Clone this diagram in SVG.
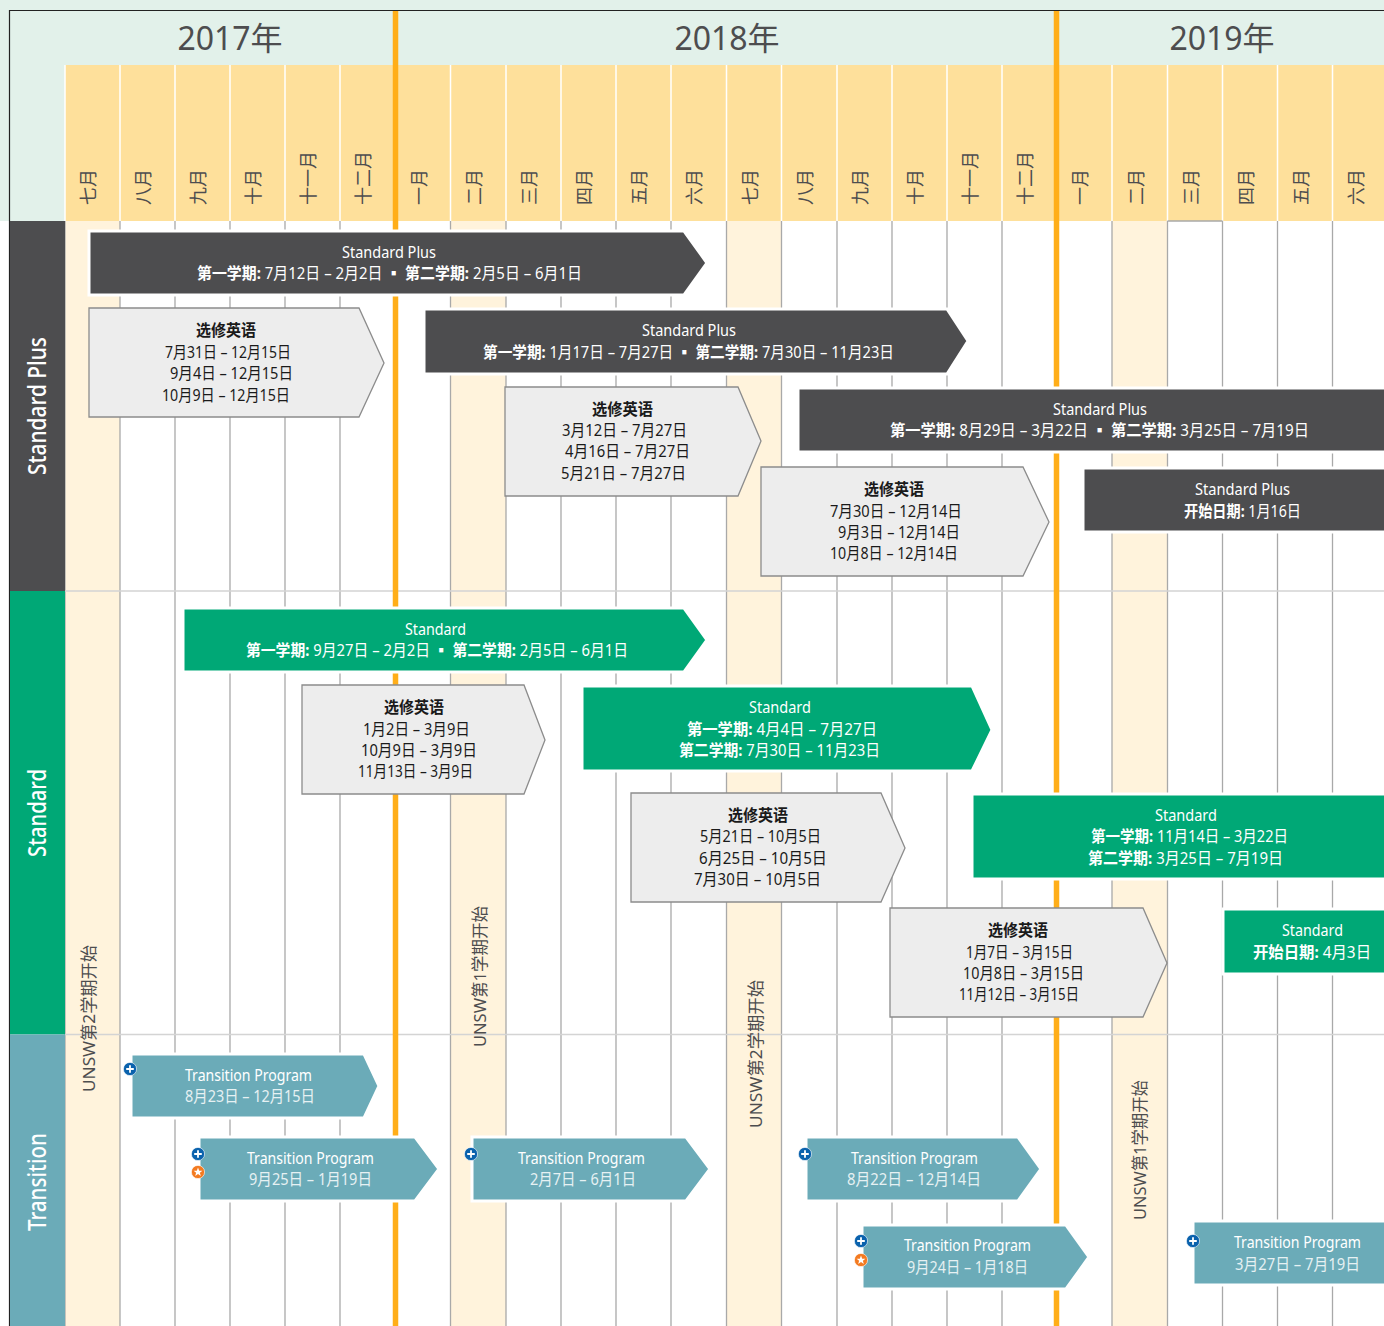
<svg xmlns="http://www.w3.org/2000/svg" width="1384" height="1326" viewBox="0 0 1384 1326">
<style>
text{font-family:"Noto Sans","Noto Sans CJK SC",sans-serif}
.yr{font-size:32px;fill:#4d4d4f;text-anchor:middle}
.mo{font-size:18px;fill:#4d4d4f}
.side{font-size:25px;fill:#fff;text-anchor:middle;font-weight:500}
.unsw{font-size:17px;fill:#4d4d4f}
.t{font-size:16px}
.w{fill:#fff}
.k{fill:#1a1a1a}
.l{fill:#e6f1f3}
.b{font-weight:700}
.dark{fill:#4d4d4f;stroke:#fff;stroke-width:3}
.green{fill:#00a876;stroke:#fff;stroke-width:3}
.teal{fill:#6babb8;stroke:#fff;stroke-width:3}
.gray{fill:#ededed;stroke:#8c8c8c;stroke-width:1.3}
.grid{stroke:#a9a9a9;stroke-width:1.3;fill:none}
.sep{stroke:#fff;stroke-width:1.5}
.hr{stroke:#d4d4d4;stroke-width:1.5}
.or{stroke:#ffae19;stroke-width:5.5}
</style>
<defs>
<g id="plus"><circle r="6.6" fill="#0a62ad" stroke="#fff" stroke-width="0.6"/><path d="M-3.8 0H3.8M0-3.8V3.8" stroke="#fff" stroke-width="1.8"/></g>
<g id="star"><circle r="6.6" fill="#f37a20" stroke="#fff" stroke-width="0.6"/><path d="M0-4.4 1.2-1.3 4.4-1.3 1.9 0.7 2.8 3.9 0 2.1-2.8 3.9-1.9 0.7-4.4-1.3-1.2-1.3Z" fill="#fff"/></g>
</defs>
<rect width="1384" height="1326" fill="#fff"/>
<g id="backdrop">
<rect width="1384" height="221" fill="#e2f1ea"/>
<rect x="65" y="65" width="1319" height="156" fill="#fee09b"/>
<rect x="65" y="221" width="55" height="1105" fill="#fff3dc"/>
<rect x="450.500" y="221" width="55.500" height="1105" fill="#fff3dc"/>
<rect x="726.500" y="221" width="55" height="1105" fill="#fff3dc"/>
<rect x="1112" y="221" width="55.500" height="1105" fill="#fff3dc"/>
<path class="sep" d="M65 65V221M120 65V221M175 65V221M230 65V221M285 65V221M340 65V221M450.500 65V221M506 65V221M561 65V221M616 65V221M671 65V221M726.500 65V221M781.500 65V221M837 65V221M892 65V221M947 65V221M1002 65V221M1112 65V221M1167.500 65V221M1222.500 65V221M1277.500 65V221M1332.500 65V221"/>
</g>
<g id="grid">
<path class="grid" d="M65 221V1326M120 221V1326M175 221V1326M230 221V1326M285 221V1326M340 221V1326M450.500 221V1326M506 221V1326M561 221V1326M616 221V1326M671 221V1326M726.500 221V1326M781.500 221V1326M837 221V1326M892 221V1326M947 221V1326M1002 221V1326M1112 221V1326M1167.500 221V1326M1222.500 221V1326M1277.500 221V1326M1332.500 221V1326M1167.500 221H1222.500"/>
<path class="hr" d="M65 591H1384M65 1034.500H1384"/>
<path class="or" d="M395.500 10V1326M1056.500 10V1326"/>
</g>
<g id="frame"><path d="M1384 10.500H9.500V1326" fill="none" stroke="#222" stroke-width="1.2"/></g>
<g id="years">
<text class="yr" x="230" y="50">2017年</text>
<text class="yr" x="727" y="50">2018年</text>
<text class="yr" x="1222" y="50">2019年</text>
</g>
<g id="months">
<text class="mo" transform="translate(95 205) rotate(-90)">七月</text>
<text class="mo" transform="translate(150 205) rotate(-90)">八月</text>
<text class="mo" transform="translate(205 205) rotate(-90)">九月</text>
<text class="mo" transform="translate(260 205) rotate(-90)">十月</text>
<text class="mo" transform="translate(315 205) rotate(-90)">十一月</text>
<text class="mo" transform="translate(370 205) rotate(-90)">十二月</text>
<text class="mo" transform="translate(426 205) rotate(-90)">一月</text>
<text class="mo" transform="translate(481 205) rotate(-90)">二月</text>
<text class="mo" transform="translate(536 205) rotate(-90)">三月</text>
<text class="mo" transform="translate(591 205) rotate(-90)">四月</text>
<text class="mo" transform="translate(646 205) rotate(-90)">五月</text>
<text class="mo" transform="translate(701 205) rotate(-90)">六月</text>
<text class="mo" transform="translate(757 205) rotate(-90)">七月</text>
<text class="mo" transform="translate(812 205) rotate(-90)">八月</text>
<text class="mo" transform="translate(867 205) rotate(-90)">九月</text>
<text class="mo" transform="translate(922 205) rotate(-90)">十月</text>
<text class="mo" transform="translate(977 205) rotate(-90)">十一月</text>
<text class="mo" transform="translate(1032 205) rotate(-90)">十二月</text>
<text class="mo" transform="translate(1087 205) rotate(-90)">一月</text>
<text class="mo" transform="translate(1143 205) rotate(-90)">二月</text>
<text class="mo" transform="translate(1198 205) rotate(-90)">三月</text>
<text class="mo" transform="translate(1253 205) rotate(-90)">四月</text>
<text class="mo" transform="translate(1308 205) rotate(-90)">五月</text>
<text class="mo" transform="translate(1363 205) rotate(-90)">六月</text>
</g>
<g id="lane-standard-plus"><rect x="10" y="221" width="55" height="370" fill="#4d4d4f"/><text class="side" transform="translate(46 406) rotate(-90)" textLength="138" lengthAdjust="spacingAndGlyphs">Standard Plus</text></g>
<g id="lane-standard"><rect x="10" y="591" width="55" height="443.500" fill="#00a876"/><text class="side" transform="translate(46 813) rotate(-90)" textLength="88" lengthAdjust="spacingAndGlyphs">Standard</text></g>
<g id="lane-transition"><rect x="10" y="1034.500" width="55" height="291.500" fill="#6babb8"/><text class="side" transform="translate(46 1182) rotate(-90)" textLength="98" lengthAdjust="spacingAndGlyphs">Transition</text></g>
<g id="term-labels">
<text class="unsw" transform="translate(95 1092) rotate(-90)" textLength="147" lengthAdjust="spacingAndGlyphs">UNSW第2学期开始</text>
<text class="unsw" transform="translate(486 1047) rotate(-90)" textLength="141" lengthAdjust="spacingAndGlyphs">UNSW第1学期开始</text>
<text class="unsw" transform="translate(762 1128) rotate(-90)" textLength="148" lengthAdjust="spacingAndGlyphs">UNSW第2学期开始</text>
<text class="unsw" transform="translate(1146 1220) rotate(-90)" textLength="140" lengthAdjust="spacingAndGlyphs">UNSW第1学期开始</text>
</g>
<g id="sp1"><polygon class="dark" points="89,231 684,231 707,263 684,295 89,295"/><text class="t w" x="342" y="258" textLength="94" lengthAdjust="spacingAndGlyphs">Standard Plus</text><text class="t w" x="197" y="279" textLength="385" lengthAdjust="spacingAndGlyphs"><tspan class="b">第一学期:</tspan> 7月12日 – 2月2日 <tspan class="b">▪ 第二学期:</tspan> 2月5日 – 6月1日</text></g>
<g id="el1"><polygon class="gray" points="89,308 359,308 384,363 359,417 89,417"/><text class="t k b" x="196" y="336" textLength="60" lengthAdjust="spacingAndGlyphs">选修英语</text><text class="t k" x="165" y="358" textLength="126" lengthAdjust="spacingAndGlyphs">7月31日 – 12月15日</text><text class="t k" x="170" y="379" textLength="123" lengthAdjust="spacingAndGlyphs">9月4日 – 12月15日</text><text class="t k" x="162" y="401" textLength="128" lengthAdjust="spacingAndGlyphs">10月9日 – 12月15日</text></g>
<g id="sp2"><polygon class="dark" points="424,309 947,309 968,341 947,374 424,374"/><text class="t w" x="642" y="336" textLength="94" lengthAdjust="spacingAndGlyphs">Standard Plus</text><text class="t w" x="483" y="358" textLength="411" lengthAdjust="spacingAndGlyphs"><tspan class="b">第一学期:</tspan> 1月17日 – 7月27日 <tspan class="b">▪ 第二学期:</tspan> 7月30日 – 11月23日</text></g>
<g id="el2"><polygon class="gray" points="505,387 738,387 761,441 738,496 505,496"/><text class="t k b" x="592" y="415" textLength="61" lengthAdjust="spacingAndGlyphs">选修英语</text><text class="t k" x="562" y="436" textLength="125" lengthAdjust="spacingAndGlyphs">3月12日 – 7月27日</text><text class="t k" x="565" y="457" textLength="125" lengthAdjust="spacingAndGlyphs">4月16日 – 7月27日</text><text class="t k" x="561" y="479" textLength="125" lengthAdjust="spacingAndGlyphs">5月21日 – 7月27日</text></g>
<g id="sp3"><polygon class="dark" points="798,388 1386,388 1386,452 798,452"/><text class="t w" x="1053" y="415" textLength="94" lengthAdjust="spacingAndGlyphs">Standard Plus</text><text class="t w" x="890" y="436" textLength="419" lengthAdjust="spacingAndGlyphs"><tspan class="b">第一学期:</tspan> 8月29日 – 3月22日 <tspan class="b">▪ 第二学期:</tspan> 3月25日 – 7月19日</text></g>
<g id="el3"><polygon class="gray" points="761,467 1023,467 1049,522 1023,576 761,576"/><text class="t k b" x="864" y="495" textLength="60" lengthAdjust="spacingAndGlyphs">选修英语</text><text class="t k" x="830" y="517" textLength="132" lengthAdjust="spacingAndGlyphs">7月30日 – 12月14日</text><text class="t k" x="838" y="538" textLength="122" lengthAdjust="spacingAndGlyphs">9月3日 – 12月14日</text><text class="t k" x="830" y="559" textLength="128" lengthAdjust="spacingAndGlyphs">10月8日 – 12月14日</text></g>
<g id="sp4"><polygon class="dark" points="1083,468 1386,468 1386,532 1083,532"/><text class="t w" x="1195" y="495" textLength="95" lengthAdjust="spacingAndGlyphs">Standard Plus</text><text class="t w" x="1184" y="517" textLength="117" lengthAdjust="spacingAndGlyphs"><tspan class="b">开始日期:</tspan> 1月16日</text></g>
<g id="st1"><polygon class="green" points="183,608 684,608 707,640 684,672 183,672"/><text class="t w" x="405" y="635" textLength="61" lengthAdjust="spacingAndGlyphs">Standard</text><text class="t w" x="246" y="656" textLength="382" lengthAdjust="spacingAndGlyphs"><tspan class="b">第一学期:</tspan> 9月27日 – 2月2日 <tspan class="b">▪ 第二学期:</tspan> 2月5日 – 6月1日</text></g>
<g id="el4"><polygon class="gray" points="302,685 524,685 545,740 524,794 302,794"/><text class="t k b" x="384" y="713" textLength="60" lengthAdjust="spacingAndGlyphs">选修英语</text><text class="t k" x="363" y="735" textLength="107" lengthAdjust="spacingAndGlyphs">1月2日 – 3月9日</text><text class="t k" x="361" y="756" textLength="116" lengthAdjust="spacingAndGlyphs">10月9日 – 3月9日</text><text class="t k" x="358" y="777" textLength="115" lengthAdjust="spacingAndGlyphs">11月13日 – 3月9日</text></g>
<g id="st2"><polygon class="green" points="582,686 972,686 992,730 972,771 582,771"/><text class="t w" x="749" y="713" textLength="62" lengthAdjust="spacingAndGlyphs">Standard</text><text class="t w" x="687" y="735" textLength="190" lengthAdjust="spacingAndGlyphs"><tspan class="b">第一学期:</tspan> 4月4日 – 7月27日</text><text class="t w" x="679" y="756" textLength="201" lengthAdjust="spacingAndGlyphs"><tspan class="b">第二学期:</tspan> 7月30日 – 11月23日</text></g>
<g id="el5"><polygon class="gray" points="631,793 881,793 905,848 881,902 631,902"/><text class="t k b" x="728" y="821" textLength="60" lengthAdjust="spacingAndGlyphs">选修英语</text><text class="t k" x="700" y="842" textLength="121" lengthAdjust="spacingAndGlyphs">5月21日 – 10月5日</text><text class="t k" x="699" y="864" textLength="128" lengthAdjust="spacingAndGlyphs">6月25日 – 10月5日</text><text class="t k" x="694" y="885" textLength="127" lengthAdjust="spacingAndGlyphs">7月30日 – 10月5日</text></g>
<g id="st3"><polygon class="green" points="972,794 1386,794 1386,879 972,879"/><text class="t w" x="1155" y="821" textLength="62" lengthAdjust="spacingAndGlyphs">Standard</text><text class="t w" x="1091" y="842" textLength="197" lengthAdjust="spacingAndGlyphs"><tspan class="b">第一学期:</tspan> 11月14日 – 3月22日</text><text class="t w" x="1088" y="864" textLength="195" lengthAdjust="spacingAndGlyphs"><tspan class="b">第二学期:</tspan> 3月25日 – 7月19日</text></g>
<g id="el6"><polygon class="gray" points="890,908 1143,908 1167,963 1143,1017 890,1017"/><text class="t k b" x="988" y="936" textLength="60" lengthAdjust="spacingAndGlyphs">选修英语</text><text class="t k" x="966" y="958" textLength="107" lengthAdjust="spacingAndGlyphs">1月7日 – 3月15日</text><text class="t k" x="963" y="979" textLength="121" lengthAdjust="spacingAndGlyphs">10月8日 – 3月15日</text><text class="t k" x="959" y="1000" textLength="120" lengthAdjust="spacingAndGlyphs">11月12日 – 3月15日</text></g>
<g id="st4"><polygon class="green" points="1223,909 1386,909 1386,974 1223,974"/><text class="t w" x="1282" y="936" textLength="61" lengthAdjust="spacingAndGlyphs">Standard</text><text class="t w" x="1253" y="958" textLength="118" lengthAdjust="spacingAndGlyphs"><tspan class="b">开始日期:</tspan> 4月3日</text></g>
<g id="tr1"><polygon class="teal" points="131,1054 364,1054 379,1086 364,1118 131,1118"/><text class="t w" x="185" y="1081" textLength="127" lengthAdjust="spacingAndGlyphs">Transition Program</text><text class="t l" x="185" y="1102" textLength="130" lengthAdjust="spacingAndGlyphs">8月23日 – 12月15日</text><use href="#plus" x="130" y="1069"/></g>
<g id="tr2"><polygon class="teal" points="199,1137 415,1137 439,1169 415,1201 199,1201"/><text class="t w" x="247" y="1164" textLength="127" lengthAdjust="spacingAndGlyphs">Transition Program</text><text class="t l" x="249" y="1185" textLength="123" lengthAdjust="spacingAndGlyphs">9月25日 – 1月19日</text><use href="#plus" x="198" y="1154"/><use href="#star" x="198" y="1172"/></g>
<g id="tr3"><polygon class="teal" points="472,1137 686,1137 710,1169 686,1201 472,1201"/><text class="t w" x="518" y="1164" textLength="127" lengthAdjust="spacingAndGlyphs">Transition Program</text><text class="t l" x="530" y="1185" textLength="106" lengthAdjust="spacingAndGlyphs">2月7日 – 6月1日</text><use href="#plus" x="471" y="1154"/></g>
<g id="tr4"><polygon class="teal" points="806,1137 1018,1137 1041,1169 1018,1201 806,1201"/><text class="t w" x="851" y="1164" textLength="127" lengthAdjust="spacingAndGlyphs">Transition Program</text><text class="t l" x="847" y="1185" textLength="134" lengthAdjust="spacingAndGlyphs">8月22日 – 12月14日</text><use href="#plus" x="805" y="1154"/></g>
<g id="tr5"><polygon class="teal" points="862,1225 1066,1225 1089,1257 1066,1289 862,1289"/><text class="t w" x="904" y="1251" textLength="127" lengthAdjust="spacingAndGlyphs">Transition Program</text><text class="t l" x="907" y="1273" textLength="121" lengthAdjust="spacingAndGlyphs">9月24日 – 1月18日</text><use href="#plus" x="861" y="1241"/><use href="#star" x="861" y="1260"/></g>
<g id="tr6"><polygon class="teal" points="1193,1221 1386,1221 1386,1285 1193,1285"/><text class="t w" x="1234" y="1248" textLength="127" lengthAdjust="spacingAndGlyphs">Transition Program</text><text class="t l" x="1235" y="1270" textLength="125" lengthAdjust="spacingAndGlyphs">3月27日 – 7月19日</text><use href="#plus" x="1193" y="1241"/></g>
</svg>
